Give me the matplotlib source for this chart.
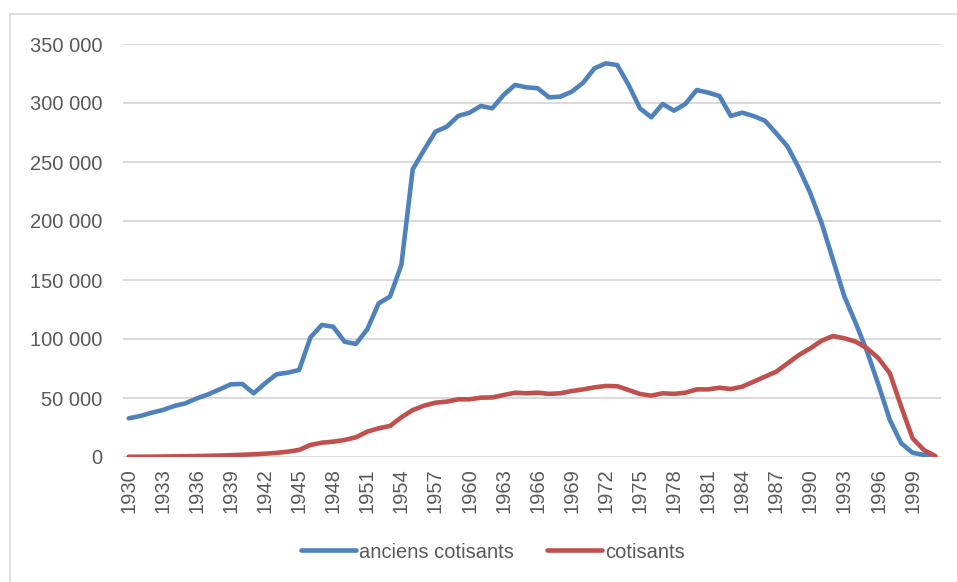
import matplotlib.pyplot as plt
from matplotlib.lines import Line2D

years = list(range(1930, 2002))

anciens_cotisants = [
    32800, 34700, 37500, 39800, 43200, 45500, 49700, 53100, 57300, 61600,
    61900, 54000, 62400, 70000, 71500, 73700, 101400, 111900, 110400, 97700,
    95800, 108200, 130200, 135900, 162700, 243800, 260200, 275700, 279900, 289000,
    291800, 297500, 295500, 306800, 315300, 313300, 312500, 304800, 305400, 309600,
    317200, 329400, 333600, 332200, 315300, 295500, 287900, 299200, 293500, 299200,
    311000, 308800, 305900, 289000, 291800, 289000, 285000, 274300, 263000, 244700,
    223500, 198000, 167000, 135900, 113300, 89200, 61000, 31400, 11600, 3600,
    1700, 300,
]

cotisants = [
    200, 250, 300, 400, 500, 600, 800, 1000, 1200, 1500,
    1900, 2300, 2800, 3500, 4500, 6000, 10200, 12100, 13000, 14400,
    16700, 21500, 24300, 26300, 33600, 39800, 43500, 46000, 46900, 48900,
    48900, 50300, 50500, 52500, 54500, 54000, 54500, 53500, 54000, 55900,
    57300, 59000, 60200, 60000, 56800, 53400, 52000, 54000, 53500, 54500,
    57300, 57300, 58700, 57600, 59600, 63800, 68100, 72300, 79400, 86500,
    92100, 98600, 102500, 100600, 97700, 92100, 83600, 70900, 42600, 15800,
    5900, 800,
]

yticks = [0, 50000, 100000, 150000, 200000, 250000, 300000, 350000]

blue = '#4F81BD'
red = '#C0504D'
grey = '#595959'

plt.rcParams['font.family'] = ['Liberation Sans', 'DejaVu Sans']

fig = plt.figure(figsize=(9.57, 5.82), dpi=100)
ax = fig.add_axes([123 / 957, 1 - 457 / 582, (941 - 123) / 957, (457 - 44) / 582])

x = list(range(len(years)))
ax.plot(x, anciens_cotisants, color=blue, lw=3.3, solid_capstyle='round', solid_joinstyle='round',
        label='anciens cotisants', zorder=3)
ax.plot(x, cotisants, color=red, lw=3.3, solid_capstyle='round', solid_joinstyle='round',
        label='cotisants', zorder=3)

ax.set_xlim(-0.5, len(years) - 0.5)
ax.set_ylim(0, 350000)
ax.set_yticks(yticks)
ax.set_yticklabels([f'{v:,}'.replace(',', ' ') for v in yticks])
ax.set_xticks(x[::3])
ax.set_xticklabels([str(y) for y in years[::3]], rotation=90)

ax.grid(axis='y', color='#D9D9D9', lw=1.4)
ax.set_axisbelow(True)
for s in ax.spines.values():
    s.set_visible(False)
ax.tick_params(axis='both', length=0, labelsize=14.5, labelcolor=grey)
ax.tick_params(axis='y', pad=15)
ax.tick_params(axis='x', pad=8)

# chart area border (partly outside the picture)
fig.add_artist(Line2D([10 / 957, 1.0], [1 - 14 / 582] * 2, color='#D9D9D9', lw=1.2,
                      transform=fig.transFigure))
fig.add_artist(Line2D([10 / 957] * 2, [0.0, 1 - 14 / 582], color='#D9D9D9', lw=1.2,
                      transform=fig.transFigure))

fig.legend(loc='center', bbox_to_anchor=(0.515, 1 - 552 / 582), ncol=2, frameon=False,
           fontsize=14.5, labelcolor=grey, handlelength=2.75, handletextpad=0.15,
           columnspacing=1.6)

fig.savefig('out.png', dpi=100)
